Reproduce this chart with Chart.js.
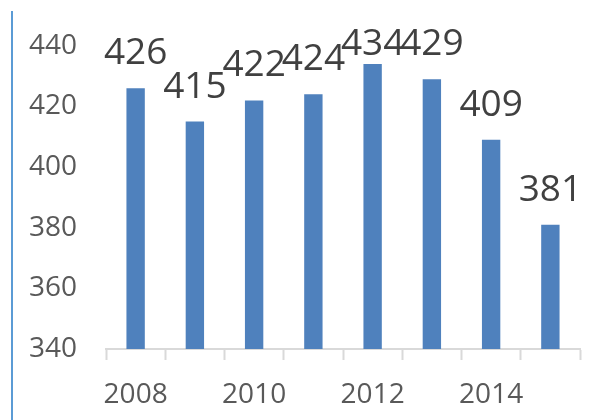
<!DOCTYPE html>
<html>
<head>
<meta charset="utf-8">
<script src="https://cdn.jsdelivr.net/npm/chart.js@4"></script>
<style>
  html, body { margin: 0; padding: 0; background: #fff; }
  #wrap { position: relative; width: 598px; height: 420px; }
  #edge { position: absolute; left: 11px; top: 11px; width: 2px; height: 409px; background: #5b9bd5; }
  canvas { position: absolute; left: 0; top: 0; }
</style>
</head>
<body>
<div id="wrap">
  <div id="edge"></div>
  <canvas id="chart" width="598" height="420"></canvas>
</div>
<script>
// Yearly totals
const years = ["2008", "2009", "2010", "2011", "2012", "2013", "2014", "2015"];
const totals = [426, 415, 422, 424, 434, 429, 409, 381];
const yTicks = [340, 360, 380, 400, 420, 440];

const fontFamily = "'Open Sans', 'Liberation Sans', sans-serif";

// Value labels above each bar, kept inside the top of the canvas
const valueLabels = {
  id: "valueLabels",
  afterDatasetsDraw(chart) {
    const ctx = chart.ctx;
    const meta = chart.getDatasetMeta(0);
    ctx.save();
    ctx.font = "37px " + fontFamily;
    ctx.fillStyle = "#404040";
    ctx.textAlign = "center";
    ctx.textBaseline = "alphabetic";
    meta.data.forEach((bar, i) => {
      const y = Math.max(bar.y - 24, 55);
      ctx.fillText(String(totals[i]), bar.x, y);
    });
    ctx.restore();
  },
};

new Chart(document.getElementById("chart"), {
  type: "bar",
  data: {
    labels: years,
    datasets: [
      {
        data: totals,
        backgroundColor: "#4f81bd",
        barPercentage: 0.31,
        categoryPercentage: 1,
      },
    ],
  },
  options: {
    responsive: false,
    animation: false,
    layout: { padding: { top: 30, right: 18, bottom: 0, left: 0 } },
    plugins: { legend: { display: false }, tooltip: { enabled: false } },
    scales: {
      x: {
        grid: {
          display: true,
          drawOnChartArea: false,
          drawTicks: true,
          tickLength: 11,
          tickWidth: 2,
          tickColor: "#d9d9d9",
          offset: true,
        },
        border: { display: true, color: "#d9d9d9", width: 2 },
        ticks: {
          autoSkip: false,
          maxRotation: 0,
          padding: 18,
          color: "#595959",
          font: { family: fontFamily, size: 28 },
          callback: function (value, index) {
            return index % 2 === 0 ? years[index] : "";
          },
        },
        afterFit(scale) {
          scale.height = 71;
        },
      },
      y: {
        min: 340,
        max: 440,
        afterBuildTicks(scale) {
          scale.ticks = yTicks.map((v) => ({ value: v }));
        },
        grid: { display: false, drawTicks: false },
        border: { display: false },
        ticks: {
          padding: 29,
          color: "#595959",
          font: { family: fontFamily, size: 28 },
        },
        afterFit(scale) {
          scale.width = 106;
        },
      },
    },
  },
  plugins: [valueLabels],
});
</script>
</body>
</html>
